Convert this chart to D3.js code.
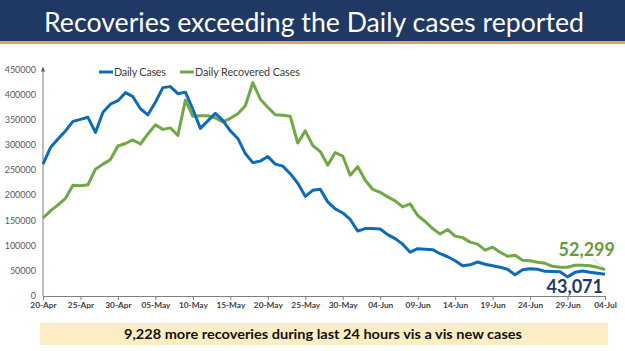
<!DOCTYPE html>
<html>
<head>
<meta charset="utf-8">
<script src="https://cdn.jsdelivr.net/npm/d3@7"></script>
<style>
  html, body { margin: 0; padding: 0; background: #fff; }
  svg { display: block; font-family: Lato, "Open Sans", sans-serif; }
</style>
</head>
<body>
<svg id="chart"></svg>
<script>
// tick labels, one every 5 days from 20-Apr to 04-Jul
const tickLabels = ["20-Apr", "25-Apr", "30-Apr", "05-May", "10-May", "15-May", "20-May", "25-May",
  "30-May", "04-Jun", "09-Jun", "14-Jun", "19-Jun", "24-Jun", "29-Jun", "04-Jul"];

// daily values, 20-Apr .. 04-Jul (76 days)
const dailyCases = [
  262000, 295000, 312000, 328000, 347000, 351000, 355000, 325000, 365000, 381000,
  388000, 404000, 396000, 372000, 360000, 385000, 414000, 416000, 402000, 405000,
  371000, 333000, 348000, 363000, 349000, 328000, 313000, 283000, 265000, 268000,
  277000, 262000, 258000, 243000, 224000, 198000, 210000, 212000, 187000, 173000,
  165000, 152000, 129000, 134000, 134000, 133000, 122000, 114000, 103000, 87000,
  94000, 93000, 92000, 84000, 78000, 70000, 60000, 62000, 67500, 63000,
  60000, 57000, 53000, 42000, 52000, 54000, 53000, 49000, 48500, 48000,
  38000, 47000, 49500, 47000, 45000, 43071
];
const dailyRecovered = [
  155000, 169000, 181000, 194000, 220000, 219000, 221000, 252000, 262000, 271000,
  298000, 303000, 310000, 302000, 322000, 340000, 331000, 334000, 319000, 389000,
  357000, 358000, 358000, 354000, 346000, 353000, 362000, 378000, 424000, 391000,
  375000, 360000, 359000, 357000, 304000, 328000, 299000, 287000, 260000, 285000,
  278000, 240000, 257000, 230000, 212000, 206000, 197000, 189000, 177000, 183000,
  160000, 148000, 134000, 123000, 132000, 119000, 116000, 107000, 103000, 91000,
  97000, 87000, 79000, 81000, 71000, 70000, 67000, 65000, 59000, 57000,
  57000, 61000, 61000, 60000, 57000, 52299
];
const yTicks = [0, 50000, 100000, 150000, 200000, 250000, 300000, 350000, 400000, 450000];
const seriesNames = ["Daily Cases", "Daily Recovered Cases"];

const W = 625, H = 351;
const blue = "#0f6bb8", green = "#6fa845";

const svg = d3.select("#chart").attr("width", W).attr("height", H);

// title banner
svg.append("rect").attr("x", 0).attr("y", 0).attr("width", W).attr("height", 42).attr("fill", "#1f3864");
svg.append("rect").attr("x", 0).attr("y", 41).attr("width", W).attr("height", 3).attr("fill", "#d8a46c");
svg.append("text")
  .attr("x", 314).attr("y", 32)
  .attr("text-anchor", "middle")
  .attr("fill", "#fff")
  .attr("font-size", 27)
  .attr("textLength", 540).attr("lengthAdjust", "spacingAndGlyphs")
  .text("Recoveries exceeding the Daily cases reported");

// scales
const x = d3.scaleLinear().domain([0, dailyCases.length - 1]).range([43, 605]);
const y = d3.scaleLinear().domain([0, 450000]).range([296, 69.5]);

// y axis labels (no ticks)
svg.append("g").selectAll("text")
  .data(yTicks).join("text")
  .attr("x", 36).attr("y", d => y(d) + 3)
  .attr("text-anchor", "end")
  .attr("font-size", 9)
  .attr("fill", "#595959")
  .text(d => d);

// y axis line with arrow
svg.append("line").attr("x1", 43).attr("x2", 43).attr("y1", y(450000)).attr("y2", 296)
  .attr("stroke", "#7f7f7f").attr("stroke-width", 1);
svg.append("path")
  .attr("d", `M43,${y(450000) - 3}L41,${y(450000) + 2}L45,${y(450000) + 2}Z`)
  .attr("fill", "#595959");

// x axis
const xAxis = d3.axisBottom(x)
  .tickValues(d3.range(0, dailyCases.length, 5))
  .tickFormat((d, i) => tickLabels[i])
  .tickSize(4)
  .tickSizeOuter(0);
const gx = svg.append("g")
  .attr("transform", "translate(0,296)")
  .call(xAxis);
gx.select(".domain").attr("stroke", "#7f7f7f");
gx.selectAll(".tick line").attr("stroke", "#7f7f7f");
gx.selectAll(".tick text")
  .attr("font-family", "Lato, sans-serif")
  .attr("font-size", 8.3)
  .attr("font-weight", "bold")
  .attr("fill", "#404040")
  .attr("dy", "0.55em")
  .attr("y", 7);

// lines
const line = d3.line().x((d, i) => x(i)).y(d => y(d));
svg.append("path").datum(dailyRecovered)
  .attr("d", line).attr("fill", "none")
  .attr("stroke", green).attr("stroke-width", 3).attr("stroke-linejoin", "round");
svg.append("path").datum(dailyCases)
  .attr("d", line).attr("fill", "none")
  .attr("stroke", blue).attr("stroke-width", 3).attr("stroke-linejoin", "round");

// legend
const legend = svg.append("g").attr("font-size", 10.8).attr("fill", "#404040");
legend.append("line").attr("x1", 99).attr("x2", 113).attr("y1", 72).attr("y2", 72)
  .attr("stroke", blue).attr("stroke-width", 3);
legend.append("text").attr("x", 114).attr("y", 76).attr("textLength", 52).text(seriesNames[0]);
legend.append("line").attr("x1", 180).attr("x2", 194).attr("y1", 72).attr("y2", 72)
  .attr("stroke", green).attr("stroke-width", 3);
legend.append("text").attr("x", 195).attr("y", 76).attr("textLength", 105).text(seriesNames[1]);

// end labels
const last = dailyCases.length - 1;
svg.append("line")
  .attr("x1", 593).attr("y1", 259).attr("x2", x(last) - 1).attr("y2", y(dailyRecovered[last]) - 2)
  .attr("stroke", "#bfbfbf").attr("stroke-width", 0.7);
svg.append("text")
  .attr("x", 615).attr("y", 256).attr("text-anchor", "end")
  .attr("font-size", 18).attr("font-weight", "bold").attr("fill", "#6a9b3c")
  .text(d3.format(",")(dailyRecovered[last]));
svg.append("text")
  .attr("x", 603).attr("y", 293).attr("text-anchor", "end")
  .attr("font-size", 18).attr("font-weight", "bold").attr("fill", "#1f3864")
  .text(d3.format(",")(dailyCases[last]));

// bottom banner
svg.append("rect").attr("x", 40).attr("y", 323).attr("width", 568).attr("height", 22).attr("fill", "#fdedc5");
svg.append("text")
  .attr("x", 323).attr("y", 339).attr("text-anchor", "middle")
  .attr("font-size", 14).attr("font-weight", "bold").attr("fill", "#111")
  .attr("textLength", 398).attr("lengthAdjust", "spacingAndGlyphs")
  .text(d3.format(",")(dailyRecovered[last] - dailyCases[last]) + " more recoveries during last 24 hours vis a vis new cases");
</script>
</body>
</html>
